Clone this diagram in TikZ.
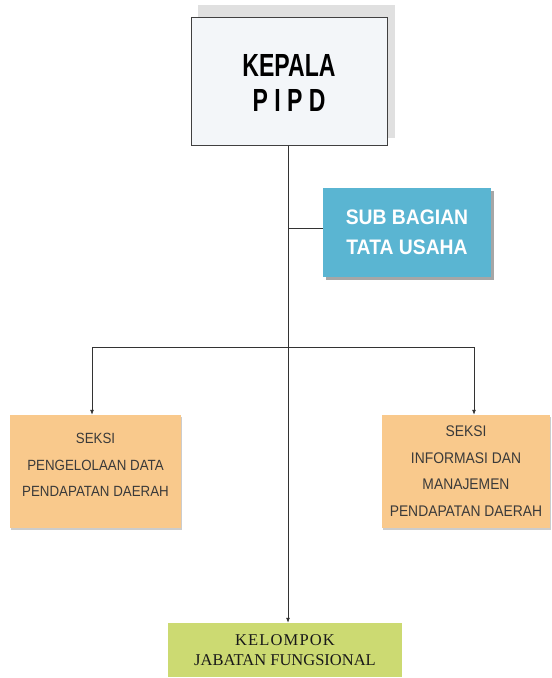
\documentclass[tikz,border=0pt]{standalone}
\usepackage{fontspec}
\setmainfont{Liberation Sans}
\newfontfamily\kepfont[FakeStretch=0.72]{Liberation Sans}
\newfontfamily\subfont[FakeStretch=0.92]{Liberation Sans}
\newfontfamily\sekfont[FakeStretch=0.9]{Liberation Sans}
\newfontfamily\kelfont{Liberation Serif}
\usetikzlibrary{arrows.meta}
\definecolor{kepfill}{HTML}{F3F6F9}
\definecolor{subfill}{HTML}{5AB5D2}
\definecolor{sekfill}{HTML}{F9C98C}
\definecolor{kelfill}{HTML}{CCDA72}
\definecolor{linec}{HTML}{333333}
\definecolor{sektext}{HTML}{3A3A3A}
\tikzset{
  conn/.style={draw=linec, line width=0.8pt},
  arr/.style={conn, -{Latex[length=5pt,width=4pt]}},
  kepbox/.style={draw=black!75, line width=1pt, fill=kepfill, minimum width=196pt, minimum height=128pt, inner sep=0pt},
  subbox/.style={fill=subfill, minimum width=168pt, minimum height=89pt, inner sep=0pt, text=white, align=center, font=\subfont\fontsize{21}{30}\selectfont\bfseries},
  sekbox/.style={fill=sekfill, minimum height=113pt, inner sep=0pt},
  sektxt/.style={align=center, text=sektext, font=\sekfont\fontsize{14.8}{26.5}\selectfont},
  kelbox/.style={fill=kelfill, minimum width=234pt, minimum height=54pt, inner sep=0pt, align=center, text=black!90, font=\kelfont\fontsize{16.5}{20}\selectfont}
}
\begin{document}
\begin{tikzpicture}[x=1pt,y=-1pt]
\useasboundingbox (0,0) rectangle (552,678);
% shadows
\fill[black!12] (198,5) rectangle (395,138);
\fill[black!35] (326,191) rectangle (494,280);
\fill[black!20] (11,417) rectangle (182,530);
\fill[black!20] (383,417) rectangle (551,530);
% boxes
\node[kepbox] (kepala) at (289,81) {};
\node[align=center, font=\kepfont\fontsize{32}{35}\selectfont\bfseries] (kept) at (289,83) {KEPALA\\P I P D};
\node[subbox] (sub) at (407,232.5) {SUB BAGIAN\\TATA USAHA};
\node[sekbox, minimum width=171pt] (seksi1) at (95.5,471.5) {};
\node[sektxt] (s1t) at (95.5,465) {SEKSI\\PENGELOLAAN DATA\\PENDAPATAN DAERAH};
\node[sekbox, minimum width=168pt] (seksi2) at (466,471.5) {};
\node[sektxt, font=\sekfont\fontsize{15.4}{26.5}\selectfont] (s2t) at (466,471) {SEKSI\\INFORMASI DAN\\MANAJEMEN\\PENDAPATAN DAERAH};
\node[kelbox] (kel) at (285,650) {{\addfontfeature{LetterSpace=7}KELOMPOK}\\JABATAN FUNGSIONAL};
% connectors
\coordinate (j1) at (288,228);
\coordinate (la) at (92,347);
\coordinate (ra) at (474,347);
\draw[conn] (kepala.south -| j1) -- (j1);
\draw[arr] (j1) -- (j1 |- kel.north);
\draw[conn] (j1) -- (j1 -| sub.west);
\draw[conn] (la) -- (ra);
\draw[arr] (la) -- (la |- seksi1.north);
\draw[arr] (ra) -- (ra |- seksi2.north);
\end{tikzpicture}
\end{document}
